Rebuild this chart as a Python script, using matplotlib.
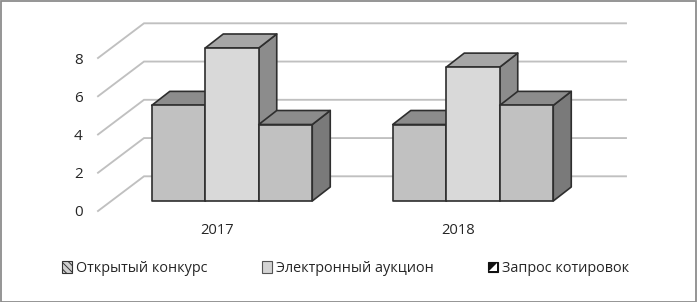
import matplotlib
matplotlib.use("Agg")
import matplotlib.pyplot as plt
from matplotlib.patches import Patch, Polygon, Rectangle
from matplotlib.legend_handler import HandlerBase

plt.rcParams['font.family'] = ['Open Sans', 'DejaVu Sans']
plt.rcParams['hatch.linewidth'] = 0.7

years = ['2017', '2018']
series_names = ['Открытый конкурс', 'Электронный аукцион', 'Запрос котировок']
open_tender = [5, 4]
e_auction = [8, 7]
quotation = [4, 5]
y_ticks = [0, 2, 4, 6, 8]

W, H = 698, 302
fig = plt.figure(figsize=(W / 100, H / 100), dpi=100, facecolor='white')

# axes = front plane of the pseudo-3D box, in pixels: x 98..580, value 0 at y=211, 8 at y=58
L, R, B, T = 98, 580, 211, 58
ax = fig.add_axes([L / W, 1 - B / H, (R - L) / W, (B - T) / H])
ax.set_ylim(0, 8)
ax.set_xlim(L, R)
ax.patch.set_visible(False)
for s in ax.spines.values():
    s.set_visible(False)
ax.set_xticks([])
ax.set_yticks(y_ticks)
ax.tick_params(axis='y', length=0, pad=11, labelsize=11, labelcolor='#262626')

UNIT = (B - T) / 8.0          # px per value


def pv(px):
    return px / UNIT


# walls / gridlines
WALL_DX, WALL_DY = 46, 34.7
RIGHT_END = 626
for v in y_ticks:
    ax.plot([L, L + WALL_DX, RIGHT_END], [v, v + pv(WALL_DY), v + pv(WALL_DY)],
            color='#c0c0c0', lw=1.35, clip_on=False, zorder=1,
            solid_joinstyle='miter')

# bars
FLOOR_UP = pv(10)
CENTERS = [232, 473]
BAR_W = 53.5
DX, DY = 18, pv(14)
EDGE = '#2e2e2e'
LW = 1.2
FRONT = ['#c1c1c1', '#d9d9d9', '#c1c1c1']
TOP = ['#8c8c8c', '#a6a6a6', '#8c8c8c']
SIDE = ['#808080', '#8c8c8c', '#7a7a7a']
all_series = [open_tender, e_auction, quotation]

z = 3
for yi, c in enumerate(CENTERS):
    for si, vals in enumerate(all_series):
        x0 = c + (si - 1.5) * BAR_W
        x1 = x0 + BAR_W
        y0 = FLOOR_UP
        y1 = FLOOR_UP + vals[yi]
        kw = dict(edgecolor=EDGE, lw=LW, clip_on=False, joinstyle='round')
        ax.add_patch(Polygon([(x1, y0), (x1 + DX, y0 + DY), (x1 + DX, y1 + DY), (x1, y1)],
                             facecolor=SIDE[si], zorder=z, **kw))
        ax.add_patch(Polygon([(x0, y1), (x1, y1), (x1 + DX, y1 + DY), (x0 + DX, y1 + DY)],
                             facecolor=TOP[si], zorder=z, **kw))
        ax.add_patch(Rectangle((x0, y0), BAR_W, vals[yi], facecolor=FRONT[si], zorder=z, **kw))
        z += 1
    ax.text(c - 14.5, FLOOR_UP - pv(30), years[yi], ha='center', va='center',
            fontsize=10.6, color='#262626', clip_on=False)


# legend
class HalfHandler(HandlerBase):
    def create_artists(self, legend, orig, xd, yd, w, h, fs, trans):
        s = min(w, h)
        x, y = -xd + w - s, -yd + (h - s) / 2
        box = Rectangle((x, y), s, s, facecolor='#111111', edgecolor='#111111', lw=0.8, transform=trans)
        tri = Polygon([(x + s * .88, y + s * .88), (x + s * .88, y + s * .12), (x + s * .12, y + s * .12)],
                      facecolor='white', edgecolor='none', transform=trans)
        return [box, tri]


handles = [
    Patch(facecolor='#d0d0d0', edgecolor='#333333', hatch='\\\\\\\\\\', lw=0.8, label=series_names[0]),
    Patch(facecolor='#d4d4d4', edgecolor='#555555', lw=0.8, label=series_names[1]),
    Patch(facecolor='#111111', label=series_names[2]),
]
leg = fig.legend(handles=handles, loc='center left', bbox_to_anchor=(62 / W, 1 - 268.5 / H),
                 ncol=3, frameon=False, fontsize=10.4, labelcolor='#262626',
                 handlelength=0.68, handleheight=0.9, handletextpad=0.3,
                 columnspacing=3.75, borderpad=0, borderaxespad=0,
                 handler_map={handles[2]: HalfHandler()})

# frame
fig.add_artist(Rectangle((0.5 / W, 0.5 / H), (W - 2.5) / W, (H - 1.5) / H, transform=fig.transFigure,
                         fill=False, edgecolor='#8c8c8c', lw=1.3))

fig.savefig('out.png', dpi=100, facecolor='white')
